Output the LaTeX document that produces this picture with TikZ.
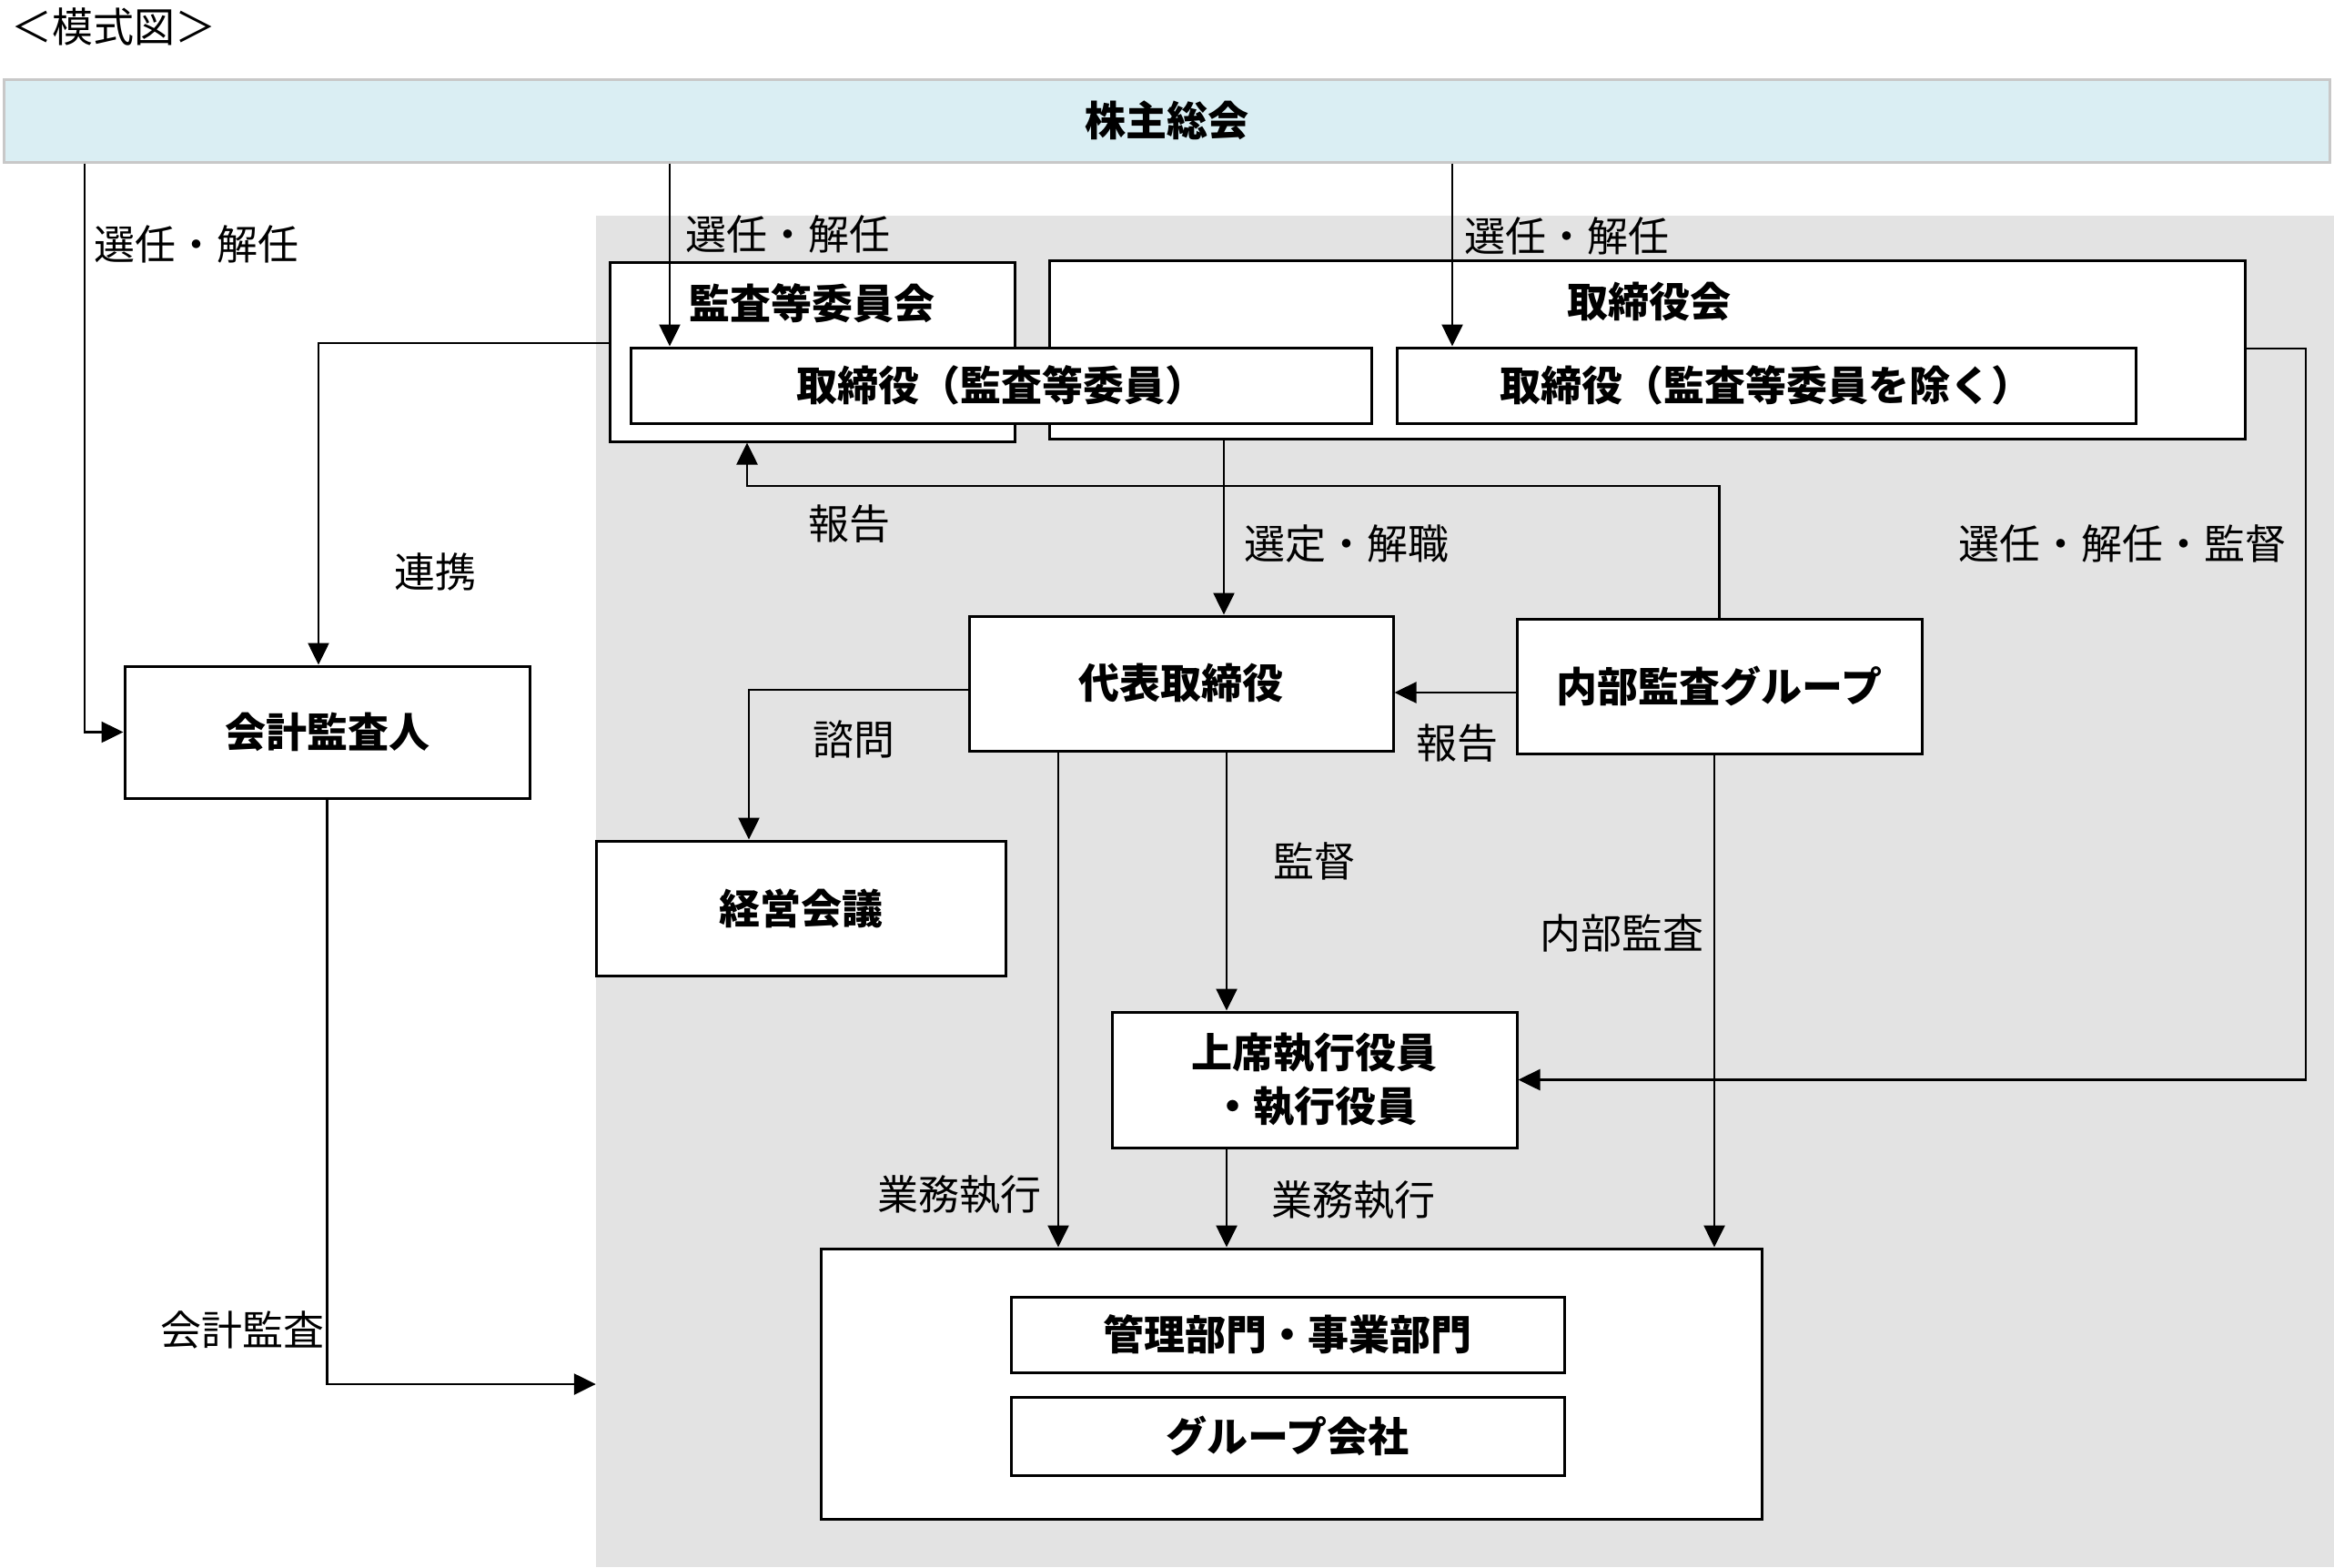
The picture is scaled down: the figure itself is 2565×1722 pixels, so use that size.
\documentclass[tikz,border=0pt]{standalone}
\usepackage{fontspec}
\setmainfont{Noto Sans CJK JP}
\usetikzlibrary{arrows.meta,calc}
\definecolor{barfill}{HTML}{DAEEF3}
\definecolor{barline}{HTML}{C8C8C8}
\definecolor{regiongray}{HTML}{E3E3E3}
\begin{document}
\begin{tikzpicture}[x=1pt,y=-1pt,
  box/.style={draw=black,line width=3pt,fill=white,inner sep=0pt,align=center,
    font=\fontsize{45pt}{59pt}\selectfont\bfseries},
  btxt/.style={inner sep=0pt,font=\fontsize{45pt}{54pt}\selectfont\bfseries},
  lbl/.style={inner sep=0pt,font=\fontsize{45pt}{54pt}\selectfont},
  arr/.style={line width=2.6pt,-{Triangle[length=24pt,width=23pt]}}]
\useasboundingbox (0,0) rectangle (2565,1722);
% title
\node[lbl] (title) at (125,29) {＜模式図＞};
% shareholders meeting bar
\node[draw=barline,fill=barfill,line width=3pt,minimum width=2556pt,minimum height=91pt,
  inner sep=0pt,font=\fontsize{45pt}{54pt}\selectfont\bfseries] (sh) at (1282,132.5) {株主総会};
% gray region
\node[fill=regiongray,minimum width=1910pt,minimum height=1485pt,inner sep=0pt] (region) at (1610,979.5) {};
% boards
\node[box,minimum width=445pt,minimum height=197pt] (kansa) at (892.5,386.5) {};
\node[btxt] (kansaT) at (892,333) {監査等委員会};
\node[box,minimum width=1314pt,minimum height=196pt] (tb) at (1810,384) {};
\node[btxt] (tbT) at (1812,332) {取締役会};
\node[box,minimum width=814pt,minimum height=83pt] (d1) at (1100,423.5) {取締役（監査等委員）};
\node[box,minimum width=812pt,minimum height=83pt] (d2) at (1941,423.5) {取締役（監査等委員を除く）};
% other boxes
\node[box,minimum width=445pt,minimum height=145pt] (kaikei) at (359.5,804.5) {会計監査人};
\node[box,minimum width=466pt,minimum height=148pt] (daihyo) at (1298,751) {代表取締役};
\node[box,minimum width=445pt,minimum height=148pt] (naibu) at (1889.5,754) {内部監査グループ};
\node[box,minimum width=450pt,minimum height=148pt] (keiei) at (880,998) {経営会議};
\node[box,minimum width=445pt,minimum height=149pt] (joseki) at (1444.5,1186.5) {上席執行役員\\・執行役員};
\node[box,minimum width=1034pt,minimum height=297pt] (outer) at (1419,1520.5) {};
\node[box,minimum width=608pt,minimum height=83pt] (kanri) at (1415,1466.5) {管理部門・事業部門};
\node[box,minimum width=608pt,minimum height=86pt] (group) at (1415,1578) {グループ会社};
% helper coordinates
\coordinate (xa) at (93,0);
\coordinate (xb) at (736,0);
\coordinate (xc) at (1596,0);
\coordinate (rk) at (350,377);
\coordinate (ka) at (359.5,1521);
\coordinate (rp) at (821,534);
\coordinate (xs) at (1345,0);
\coordinate (yr) at (0,761);
\coordinate (rr) at (2534,383);
\coordinate (sm) at (823,758);
\coordinate (xk) at (1348,0);
\coordinate (xg) at (1163,0);
\coordinate (xn) at (1884,0);
% connectors
\draw[arr] (sh.south -| xa) |- (kaikei.west);
\draw[arr] (sh.south -| xb) -- (d1.north -| xb);
\draw[arr] (sh.south -| xc) -- (d2.north -| xc);
\draw[arr] (kansa.west |- rk) -| (kaikei.north -| rk);
\draw[arr] (kaikei.south) |- (region.west |- ka);
\draw[arr] (naibu.north) |- (rp) -- (kansa.south -| rp);
\draw[arr] (tb.south -| xs) -- (daihyo.north -| xs);
\draw[arr] (naibu.west |- yr) -- (daihyo.east |- yr);
\draw[arr] (tb.east |- rr) -- (rr) |- (joseki.east);
\draw[arr] (daihyo.west |- sm) -| (keiei.north -| sm);
\draw[arr] (daihyo.south -| xk) -- (joseki.north -| xk);
\draw[arr] (joseki.south -| xk) -- (outer.north -| xk);
\draw[arr] (daihyo.south -| xg) -- (outer.north -| xg);
\draw[arr] (naibu.south -| xn) -- (outer.north -| xn);
% labels
\node[lbl] (l1) at (216,268) {選任・解任};
\node[lbl] (l2) at (866,257) {選任・解任};
\node[lbl] (l3) at (1722,259) {選任・解任};
\node[lbl] (l4) at (478,628) {連携};
\node[lbl] (l5) at (266,1461) {会計監査};
\node[lbl] (l6) at (933,576) {報告};
\node[lbl] (l7) at (1480,597) {選定・解職};
\node[lbl] (l8) at (1601,817) {報告};
\node[lbl] (l9) at (2332,597) {選任・解任・監督};
\node[lbl] (l10) at (938,812) {諮問};
\node[lbl] (l11) at (1444,946) {監督};
\node[lbl] (l12) at (1782,1025) {内部監査};
\node[lbl] (l13) at (1054,1313) {業務執行};
\node[lbl] (l14) at (1487,1319) {業務執行};
\end{tikzpicture}
\end{document}
